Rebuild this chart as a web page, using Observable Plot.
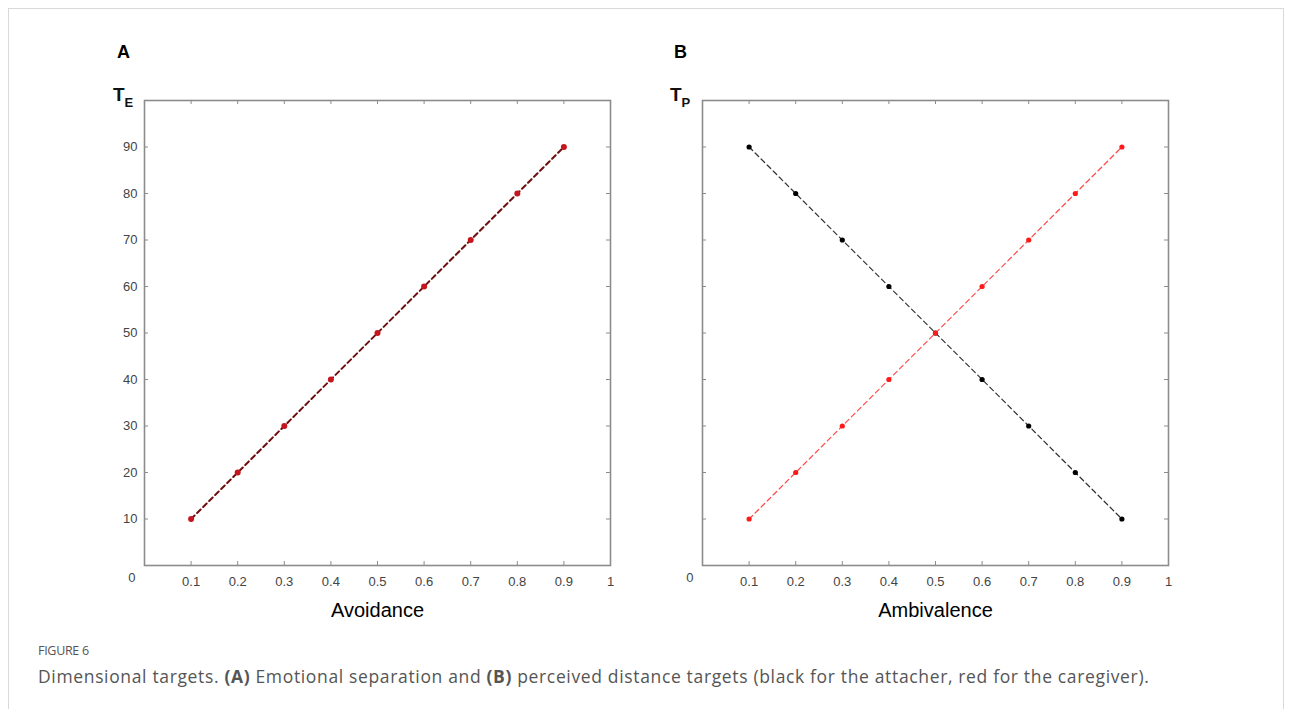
<!DOCTYPE html>
<html><head><meta charset="utf-8">
<script src="https://cdn.jsdelivr.net/npm/d3@7"></script>
<script src="https://cdn.jsdelivr.net/npm/@observablehq/plot@0.6"></script>
<style>
body{margin:0;background:#fff;width:1290px;height:709px;overflow:hidden;position:relative;font-family:"Liberation Sans",Arial,sans-serif;}
#border{position:absolute;left:8px;top:8px;width:1274px;height:760px;border:1px solid #d9d9d9;}
.panel{position:absolute;}
.plab{position:absolute;font-weight:bold;font-size:18px;color:#000;}
.tlab{position:absolute;font-weight:bold;font-size:19px;color:#111;}
.tlab sub{font-size:13px;vertical-align:-6px;}
#fig{position:absolute;left:38px;top:642px;font-family:"Open Sans",sans-serif;font-size:12.5px;color:#555;letter-spacing:-0.3px;}
#cap{position:absolute;left:38px;top:664px;font-family:"Open Sans",sans-serif;font-size:17.5px;color:#555;white-space:nowrap;letter-spacing:0.65px;}
</style></head>
<body>
<div id="border"></div>
<div class="plab" style="left:117px;top:42px">A</div>
<div class="plab" style="left:674px;top:42px">B</div>
<div class="tlab" style="left:113px;top:84px">T<sub>E</sub></div>
<div class="tlab" style="left:670px;top:84px">T<sub>P</sub></div>
<div id="pa" class="panel" style="left:100px;top:80px"></div>
<div id="pb" class="panel" style="left:658px;top:80px"></div>
<div id="fig">FIGURE 6</div>
<div id="cap">Dimensional targets. <b>(A)</b> Emotional separation and <b>(B)</b> perceived distance targets (black for the attacher, red for the caregiver).</div>
<script>
const xValues = [0.1,0.2,0.3,0.4,0.5,0.6,0.7,0.8,0.9];
const emotionalSeparation = [10,20,30,40,50,60,70,80,90];
const attacherDistance = [90,80,70,60,50,40,30,20,10];
const caregiverDistance = [10,20,30,40,50,60,70,80,90];
const xTickValues = [0.1,0.2,0.3,0.4,0.5,0.6,0.7,0.8,0.9,1];
const yTickValues = [10,20,30,40,50,60,70,80,90];

const W = 466, H = 465;
const mL = 44, mR = 20, mT = 20, mB = 60;

function panel(series, xLabel, showY) {
  const marks = [
    Plot.frame({stroke:"#8c8c8c", strokeWidth:1.6}),
    Plot.tickX(xValues, {x:d=>d, insetTop:H-4, stroke:"#8c8c8c"}),
    Plot.tickX(xValues, {x:d=>d, insetBottom:H-4, stroke:"#8c8c8c"}),
    Plot.tickY(yTickValues, {y:d=>d, insetRight:W-4, stroke:"#8c8c8c"}),
    Plot.tickY(yTickValues, {y:d=>d, insetLeft:W-4, stroke:"#8c8c8c"}),
    Plot.axisX(xTickValues, {tickSize:0, tickPadding:11, tickFormat:d=>String(+d.toFixed(1)), fill:"#444", label:null}),
    Plot.axisY([0], {tickSize:0, tickPadding:9, dy:12, fill:"#444", label:null}),
    Plot.text([xLabel], {frameAnchor:"bottom", dy:51, fontSize:20, fill:"#000"})
  ];
  if (showY) marks.push(Plot.axisY(yTickValues, {tickSize:0, tickPadding:7, fill:"#444", label:null}));
  for (const s of series) {
    const data = xValues.map((x,i)=>({x, y:s.values[i]}));
    marks.push(Plot.line(data, {x:"x", y:"y", stroke:s.line, strokeWidth:s.w, strokeDasharray:"5,3.5"}));
    marks.push(Plot.dot(data, {x:"x", y:"y", r:s.r, fill:s.dot, stroke:"none"}));
  }
  return Plot.plot({
    width: mL+W+mR, height: mT+H+mB,
    marginLeft:mL, marginRight:mR, marginTop:mT, marginBottom:mB,
    x:{domain:[0,1], axis:null},
    y:{domain:[0,100], axis:null},
    style:{fontFamily:"'Liberation Sans', Arial, sans-serif", fontSize:"13px", background:"transparent"},
    marks
  });
}

document.getElementById("pa").append(panel([
  {values:emotionalSeparation, line:"#6e0f0f", dot:"#c4161c", w:2, r:3}
], "Avoidance", true));
document.getElementById("pb").append(panel([
  {values:attacherDistance, line:"#333", dot:"#000", w:1.2, r:2.6},
  {values:caregiverDistance, line:"#ff4a4a", dot:"#ff1a1a", w:1.2, r:2.6}
], "Ambivalence", false));
</script>
</body></html>
